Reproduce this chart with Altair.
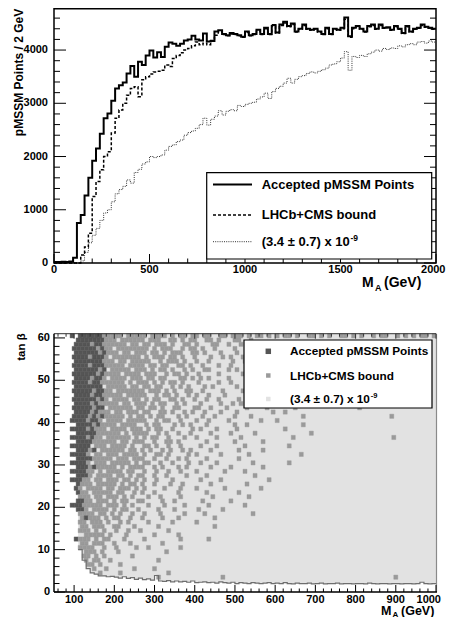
import altair as alt
import pandas as pd

FONT = "Liberation Sans"
W, H = 438, 609

# ======================= TOP PANEL DATA =======================
BIN_W = 20  # GeV per histogram bin, bins start at 0
ACCEPTED = [20, 20, 25, 20, 30, 100, 750, 900, 1270, 1600,
            1920, 2150, 2430, 2720, 2810, 3050, 3280, 3340, 3390, 3560,
            3700, 3500, 3780, 3720, 3900, 3990, 3860, 3960, 3870, 4060,
            4140, 4120, 4080, 4120, 4180, 4200, 4270, 4200, 4180, 4310,
            4160, 4170, 4350, 4370, 4300, 4280, 4320, 4300, 4280, 4250,
            4350, 4280, 4300, 4380, 4300, 4420, 4300, 4470, 4330, 4480,
            4530, 4450, 4500, 4350, 4400, 4480, 4400, 4380, 4400, 4350,
            4300, 4420, 4300, 4400, 4380, 4420, 4610, 4260, 4420, 4450,
            4400, 4350, 4450, 4480, 4400, 4480, 4420, 4430, 4380, 4450,
            4400, 4320, 4450, 4350, 4400, 4420, 4480, 4440, 4420, 4400]
LHCB_CMS = [0, 0, 0, 0, 0, 0, 0, 150, 300, 560,
            1250, 1530, 1750, 2000, 2090, 2440, 2720, 2875, 3000, 3150,
            3280, 3310, 3125, 3440, 3500, 3550, 3590, 3600, 3620, 3720,
            3690, 3840, 3900, 3950, 4000, 4030, 4080, 4150, 4100, 4130,
            4100, 4180, 4280, 4350, 4290, 4270, 4300, 4290, 4270, 4240,
            4330, 4270, 4290, 4360, 4290, 4400, 4290, 4450, 4320, 4460,
            4510, 4440, 4480, 4340, 4390, 4460, 4390, 4370, 4390, 4340,
            4290, 4400, 4290, 4390, 4370, 4400, 4580, 4240, 4400, 4440,
            4390, 4340, 4440, 4460, 4390, 4460, 4410, 4420, 4370, 4440,
            4390, 4310, 4440, 4340, 4390, 4410, 4460, 4430, 4410, 4390]
CENTRAL = [0, 0, 0, 0, 0, 0, 0, 40, 200, 380,
           520, 650, 800, 940, 1000, 1150, 1300, 1380, 1440, 1560,
           1500, 1700, 1760, 1860, 1900, 2000, 1980, 2000, 2030, 2120,
           2190, 2220, 2280, 2310, 2400, 2450, 2480, 2530, 2600, 2720,
           2590, 2700, 2760, 2860, 2780, 2850, 2880, 2860, 2960, 2940,
           2980, 3000, 3020, 3080, 3120, 3190, 3090, 3220, 3280, 3320,
           3380, 3470, 3380, 3450, 3500, 3520, 3560, 3590, 3570, 3600,
           3630, 3660, 3720, 3740, 3780, 3850, 3970, 3620, 3880, 3860,
           3900, 3880, 3930, 3960, 4000, 3980, 4030, 4010, 4040, 4030,
           4080, 4060, 4100, 4120, 4100, 4150, 4160, 4130, 4170, 4150]
SERIES = ["Accepted pMSSM Points", "LHCb+CMS bound", "(3.4 \u00b1 0.7) x 10"]
EXPONENT = "-9"

TOP_X_LABELS = [0, 500, 1000, 1500, 2000]
TOP_Y_LABELS = [0, 1000, 2000, 3000, 4000]

# ======================= BOTTOM PANEL DATA =======================
BOT_X_LABELS = [100, 200, 300, 400, 500, 600, 700, 800, 900, 1000]
BOT_Y_LABELS = [0, 10, 20, 30, 40, 50, 60]

# light region (3.4 +- 0.7): lower tan(beta) edge per 10 GeV column, from M_A = 110 GeV
LIGHT_X0 = 110
LIGHT_YLOW = [10, 7.5, 5.5, 4.5, 4.2, 3.8, 3.8, 3.6, 3.7, 3.5,
              3.3, 3.6, 3.2, 3.4, 3.0, 3.3, 2.9, 3.1, 2.8, 3.9,
              2.6, 2.5, 2.7, 2.4, 2.6, 2.4, 2.5, 2.3, 2.6, 2.2,
              2.3, 2.4, 2.2, 2.3, 2.1, 2.4, 2.2, 2.1, 2.3, 2.0,
              2.2, 2.1, 2.0, 2.2, 2.1, 2.0, 2.1, 2.2, 2.0, 2.1,
              2.0, 2.2, 2.0, 1.9, 2.1, 2.0, 2.0, 2.1, 1.9, 2.0,
              2.1, 1.9, 2.0, 2.0, 2.1, 1.9, 2.0, 2.0, 1.9, 2.0,
              2.0, 1.9, 2.1, 2.0, 1.9, 2.0, 2.0, 1.9, 2.0, 2.0,
              1.9, 2.0, 2.0, 1.9, 2.0, 2.3, 2.0, 1.9, 2.0]
LIGHT_TOP = 61

# medium ('o') and dark ('#') cells, 10 GeV x 1 unit, columns from M_A = 90 GeV
# (odd rows are drawn half a cell to the right)
GRID_X0 = 90
SEG_W = [7, 10, 14, 10, 10, 10, 30]
GRID_ROWS = [
    (60, ("#.#####", "#ooooo.ooo", "oo.oooo.o.oo.o", "o.oo..oo.o", "oo.o.oo.o.", "o.oo.o..oo", ".o.o..oo.o.o..o.oo..o.o.o.oo.o")),
    (59, (".######", "#ooo.ooooo", "o.ooo..oo.o.oo", "..oo.o...o", "o..o......")),
    (58, (".####o#", "#oooooo.oo", ".oo.ooo.o..oo.", "o...oo..o.", ".o")),
    (57, ("######o", "#oo.oooooo", "oo.o.ooo..o.oo", ".o..o....o", "..o")),
    (56, (".######", "o#ooo.oo.o", "oo.oo.o.ooo..o", "o.o...o...", "o")),
    (55, ("####o##", "#o.ooooooo", ".o.ooo.oo.o..o", "...o..o.o.", ".o")),
    (54, (".######", "#ooo.oo.oo", "ooo..o.ooo.o..", "o..o.....o", "..o")),
    (53, ("####o##", "#ooooo.ooo", "o.oo.oo..oo.o.", ".o...o..o.", "")),
    (52, (".######", "o#.ooooo.o", "oo.o.oo.o..o.o", "..oo....o.", "o")),
    (51, ("######o", "#oooo.oooo", ".ooo..o.oo.o..", "o....o....", ".o")),
    (50, (".####o#", "#o.oooo.oo", "o.oo.oo...oo.o", ".o.o....o.", "")),
    (49, ("####o##", "oooooo.o.o", "oo.o.o.oo.o...", "o....o..o.", "..o")),
    (48, (".######", "#.ooooo.oo", ".oo.oo..o.o.o.", "..o.o.....", "o")),
    (47, ("#####o#", "#oo.oooooo", "o.ooo.o.o..oo.", ".o....o...", ".o")),
    (46, (".####o#", "#ooooo.ooo", "oo..o.oo.o..o.", "o..o...o..", "")),
    (45, ("######o", "#o.oooo.oo", ".o.oo..oo.o..o", "..o..o....", "o")),
    (44, (".####o#", "ooooo.oo.o", "oo.o.oo..o.o..", ".o....o..o", ".o")),
    (43, ("#####o#", "#.oooooo.o", "o.oo.o..oo...o", "o..o...o..", "..o....o..", "....o.....", "..........o...................")),
    (42, (".####o#", "ooo.oo.ooo", ".oo..oo.o..o.o", "..o...o...", "o........o", "..o.......", "")),
    (41, ("####o#o", "#ooooo.o.o", "o.o.oo...o.o..", ".o..o....o", "...o......", "......o...", "..................o...........")),
    (40, ("####o##", "o.oooo.ooo", "oo..o.oo..o...", "o..o....o.", "......o...", "o.........", "")),
    (39, (".####o#", "oooo.oooo.", ".o.oo...o.o.o.", "..o......o", "..o.......", "......o...", "")),
    (38, ("####o#o", "oo.oooo.oo", "o.o.oo..o....o", ".o...o....", "o.........", "..o.......", "")),
    (37, (".#####o", "ooooo.o.oo", "oo..o.o..o..o.", "...o....o.", "....o.....", "........o.", "")),
    (36, ("####o#o", "o.oooooo.o", ".o.oo..o...o..", "o....o....", ".o........", "....o.....", "...................o..........")),
    (35, (".####oo", "oooo.oo.oo", "o..o..oo.o....", "..o......o", "......o...", "", "")),
    (34, ("#####.o", "oo.oooo.o.", ".oo.o..o..o...", ".o...o....", "..o.......", "...o......", "")),
    (33, (".###o#.", "oooooo.oo.", "o.o..o.o..o.o.", "...o......", "o.....o...", "", "")),
    (32, ("####o.o", "o.ooo.oooo", ".o..oo.o....o.", "o.....o...", "...o......", "......o...", "")),
    (31, (".####oo", "ooo.ooo.oo", "o..o..o..o.o..", "..o.......", "o.........", "", "")),
    (30, ("####o.o", "oo.ooooo.o", ".oo..o..o...o.", ".o...o....", "....o.....", "...o......", "")),
    (29, (".###o#o", "oooo.o.ooo", "o..o.o...o.o..", "...o....o.", "......o...", "", "")),
    (28, ("####oo.", "o.oooo.oo.", ".o..o..o..o...", "o......o..", "..o.......", "", "")),
    (27, (".###o.o", "ooo.oo.o.o", "o..o..o....o..", "..o.......", "....o.....", "", "")),
    (26, ("###oo.o", "o.ooo.oo.o", ".o..o...o.....", ".o....o...", "........o.", "", "")),
    (25, (".#ooo.o", "oooo.o.oo.", "o..o...o..o...", "...o......", "..o.......")),
    (24, (".#o.ooo", "o.oo.ooo.o", ".o....o...o...", "o......o..", "......o...")),
    (23, (".#oo.oo", "ooo.oo..o.", "o..o.....o....", "..o.......", "o.........")),
    (22, ("..ooo.o", "o.ooo.o.o.", "..o..o....o...", "....o.....", "...o......")),
    (21, (".##oo.o", "oo.o.oo..o", "o....o..o.....", ".o......o.", "")),
    (20, ("###oooo", "o.ooo.o.o.", "..o...o....o..", "...o......", "..o.......")),
    (19, (".##o.oo", "oo.o.oo..o", "....o...o.....", "o.....o...", "")),
    (18, ("..oooo.", "oo.o.o..o.", ".o...o.....o..", "..o.......", "....o.....")),
    (17, ("..o#ooo", ".o.oo..o..", "o....o...o....", "....o.....", "")),
    (16, ("..oo.oo", "o.o..o.o..", "..o.....o.....", "o.........", "")),
    (15, ("..oo.oo", "o..oo...o.", "....o.........", "....o.....")),
    (14, ("..ooo.o", ".o..o..o..", "o......o......", "")),
    (13, ("...oooo", "o.o...o...", "...o.....o....", "")),
    (12, (".#ooo.o", ".oo...o...", ".o........o...", "...o......")),
    (11, ("..oo.oo", "o..o...o..", ".....o........", "")),
    (10, ("..oooo.", ".o..o....o", "..o.......o...", "")),
    (9, ("...ooo.", "o...o.....", "......o.......", "")),
    (8, ("...oo.o", ".o......o.", "", "")),
    (7, ("...o.oo", "..o.......", "....o.........", "")),
    (6, ("....oo.", "o....o....", "", "")),
    (5, (".....o.", ".o......o.", "...o..........", "")),
    (4, (".......", "o....o....", ".......o......", "", "", "", "")),
    (3, (".......", "..........", "....o.........", "......o...", "", "", "...................o..........")),
]
CELL_W = 10

# ======================= SCALES (pixel layout) =======================
XL, XR = 46, 428
T_BOT, T_TOP = 255, 0
B_BOT, B_TOP = 584, 325.7
SX_T = alt.Scale(domain=[0, 2000], range=[XL, XR], nice=False, zero=False)
SY_T = alt.Scale(domain=[0, 4790], range=[T_BOT, T_TOP], nice=False, zero=False)
SX_B = alt.Scale(domain=[50, 1000], range=[XL, XR], nice=False, zero=False)
SY_B = alt.Scale(domain=[0, 61], range=[B_BOT, B_TOP], nice=False, zero=False)


def one():
    return pd.DataFrame({"t": [""]})


def text_at(text, x, y, size, align="left", baseline="alphabetic", angle=0, weight="bold"):
    return alt.Chart(pd.DataFrame({"t": [text]})).mark_text(
        font=FONT, fontSize=size, fontWeight=weight, align=align, baseline=baseline,
        angle=angle, color="black").encode(x=alt.value(x), y=alt.value(y), text="t:N")


def ticks_x(values, scale, y0, y1, color="black", w=1):
    return alt.Chart(pd.DataFrame({"v": values})).mark_rule(color=color, strokeWidth=w).encode(
        x=alt.X("v:Q", scale=scale, axis=None), y=alt.value(y0), y2=alt.value(y1))


def ticks_y(values, scale, x0, x1, color="black", w=1):
    return alt.Chart(pd.DataFrame({"v": values})).mark_rule(color=color, strokeWidth=w).encode(
        y=alt.Y("v:Q", scale=scale, axis=None), x=alt.value(x0), x2=alt.value(x1))


def hline(x0, x1, y, color="black", w=1, dash=(1, 0)):
    return alt.Chart(one()).mark_rule(color=color, strokeWidth=w, strokeDash=list(dash)).encode(
        x=alt.value(x0), x2=alt.value(x1), y=alt.value(y))


def vline(x, y0, y1, color="black", w=1):
    return alt.Chart(one()).mark_rule(color=color, strokeWidth=w).encode(
        x=alt.value(x), y=alt.value(y0), y2=alt.value(y1))


def box(x0, x1, y0, y1, fill="white", opacity=1.0, w=1.0):
    return alt.Chart(one()).mark_rect(fill=fill, fillOpacity=opacity, stroke="black", strokeWidth=w).encode(
        x=alt.value(x0), x2=alt.value(x1), y=alt.value(y0), y2=alt.value(y1))


def value_labels(values, xscale=None, yscale=None, x=None, y=None, size=11, align="center",
                 baseline="alphabetic"):
    ch = alt.Chart(pd.DataFrame({"v": values})).mark_text(
        font=FONT, fontSize=size, fontWeight="bold", align=align, baseline=baseline)
    if xscale is not None:
        return ch.encode(x=alt.X("v:Q", scale=xscale, axis=None), y=alt.value(y),
                         text=alt.Text("v:Q", format="d"))
    return ch.encode(y=alt.Y("v:Q", scale=yscale, axis=None), x=alt.value(x),
                     text=alt.Text("v:Q", format="d"))


layers = []

# ----------------------- TOP PANEL -----------------------
styles = [("black", 2.0, [1, 0]), ("black", 1.5, [3, 2]), ("#333333", 1.0, [1, 1.2])]
for name, vals, (col, sw, dash) in reversed(list(zip(SERIES, [ACCEPTED, LHCB_CMS, CENTRAL], styles))):
    xs = [i * BIN_W for i in range(len(vals))] + [len(vals) * BIN_W]
    ys = list(vals) + [vals[-1]]
    df = pd.DataFrame({"ma": xs, "n": ys})
    layers.append(alt.Chart(df).mark_line(interpolate="step-after", color=col, strokeWidth=sw,
                                          strokeDash=dash).encode(
        x=alt.X("ma:Q", scale=SX_T, axis=None), y=alt.Y("n:Q", scale=SY_T, axis=None)))

layers.append(box(XL, XR, 0.75, T_BOT, fill="white", opacity=0.0, w=1.5))

top_xmin = [v for v in range(100, 2000, 100) if v % 500]
top_ymin = [v for v in range(200, 4790, 200) if v % 1000]
layers += [
    ticks_x(TOP_X_LABELS, SX_T, T_BOT, T_BOT - 9),
    ticks_x(top_xmin, SX_T, T_BOT, T_BOT - 4.5),
    ticks_y(TOP_Y_LABELS, SY_T, XL, XL + 12),
    ticks_y(top_ymin, SY_T, XL, XL + 6),
    ticks_y(TOP_Y_LABELS, SY_T, XR, XR - 12),
    ticks_y(top_ymin, SY_T, XR, XR - 6),
    value_labels(TOP_X_LABELS[:-1], xscale=SX_T, y=265),
    value_labels(TOP_X_LABELS[-1:], xscale=SX_T, y=265, align="right").encode(x=alt.value(437.5)),
    value_labels(TOP_Y_LABELS, yscale=SY_T, x=40, align="right", baseline="middle"),
    text_at("pMSSM Points / 2 GeV", 11, 64.5, 12, align="center", baseline="middle", angle=270),
    text_at("M", 354, 279, 14),
    text_at("A", 367, 283, 9),
    text_at("(GeV)", 376, 279, 14),
]
# legend
layers.append(box(198.7, 423.7, 164.7, 251, fill="white", w=1.2))
for (name, (col, sw, dash)), yy in zip(zip(SERIES, styles), [176.5, 207, 233.7]):
    layers.append(hline(205, 244, yy, color=col, w=sw, dash=dash))
    layers.append(text_at(name, 253.7, yy, 13, baseline="middle"))
layers.append(text_at(EXPONENT, 342.5, 230, 8.5, baseline="middle"))

# ----------------------- BOTTOM PANEL -----------------------
light = pd.DataFrame({
    "x": [LIGHT_X0 + CELL_W * i for i in range(len(LIGHT_YLOW))] + [1000],
    "ylow": LIGHT_YLOW + [LIGHT_YLOW[-1]],
    "ytop": [LIGHT_TOP] * (len(LIGHT_YLOW) + 1),
})
layers.append(alt.Chart(light).mark_area(interpolate="step-after", color="#e2e2e2", opacity=1).encode(
    x=alt.X("x:Q", scale=SX_B, axis=None),
    y=alt.Y("ylow:Q", scale=SY_B, axis=None), y2="ytop:Q"))

ncols = sum(SEG_W)
cells = []
for yv, segs in GRID_ROWS:
    row = "".join(s.ljust(w, ".")[:w] for s, w in zip(segs, SEG_W)).ljust(ncols, ".")
    shift = CELL_W / 2 if yv % 2 else 0
    for c, ch in enumerate(row):
        if ch in "o#":
            x0 = min(GRID_X0 + CELL_W * c + shift, 1000 - CELL_W)
            cells.append({"x0": x0, "x1": x0 + CELL_W, "y0": yv, "y1": yv + 1,
                          "cat": "dark" if ch == "#" else "medium"})
cells = pd.DataFrame(cells)
cat_scale = alt.Scale(domain=["medium", "dark"], range=["#9a9a9a", "#555555"])
layers.append(alt.Chart(cells).mark_rect(strokeWidth=0.4).encode(
    x=alt.X("x0:Q", scale=SX_B, axis=None), x2="x1:Q",
    y=alt.Y("y0:Q", scale=SY_B, axis=None), y2="y1:Q",
    color=alt.Color("cat:N", scale=cat_scale, legend=None),
    stroke=alt.Stroke("cat:N", scale=cat_scale, legend=None)))

layers.append(alt.Chart(light).mark_line(interpolate="step-after", color="#6e6e6e", strokeWidth=1.2).encode(
    x=alt.X("x:Q", scale=SX_B, axis=None), y=alt.Y("ylow:Q", scale=SY_B, axis=None)))

# frame
layers += [
    hline(XL, XR, B_TOP, color="#333333", w=1),
    vline(XR + 0.5, B_TOP, B_BOT, color="#8a8a8a", w=1.2),
    hline(XL, XR + 1, B_BOT, color="black", w=1.5),
    vline(XL, B_TOP, B_BOT, color="black", w=1.5),
]
bot_xmin = [v for v in range(60, 1000, 20) if v % 100]
bot_ymin = [v for v in range(2, 61, 2) if v % 10]
layers += [
    ticks_x(BOT_X_LABELS, SX_B, B_BOT, B_BOT - 7),
    ticks_x(bot_xmin, SX_B, B_BOT, B_BOT - 3.5),
    ticks_x(BOT_X_LABELS, SX_B, B_TOP, B_TOP + 5, color="#333333"),
    ticks_x(bot_xmin, SX_B, B_TOP, B_TOP + 3, color="#333333"),
    ticks_y(BOT_Y_LABELS, SY_B, XL, XL + 11),
    ticks_y(bot_ymin, SY_B, XL, XL + 5.5),
    value_labels(BOT_X_LABELS[:-1], xscale=SX_B, y=595),
    value_labels(BOT_X_LABELS[-1:], xscale=SX_B, y=595, align="right").encode(x=alt.value(433)),
    value_labels(BOT_Y_LABELS, yscale=SY_B, x=42, align="right", baseline="middle"),
    text_at("tan \u03b2", 14, 339, 11.5, align="center", baseline="middle", angle=270),
    text_at("M", 373, 606.5, 12.5),
    text_at("A", 384.5, 608.5, 8),
    text_at("(GeV)", 393, 606.5, 12.5),
]
# legend
layers.append(box(236, 424, 332, 400, fill="white", w=1.2))
marker_styles = [("#555555", 30), ("#9a9a9a", 20), ("#e2e2e2", 20)]
for (name, (col, sz)), yy in zip(zip(SERIES, marker_styles), [343.3, 367.5, 391]):
    layers.append(alt.Chart(one()).mark_square(color=col, size=sz, opacity=1).encode(
        x=alt.value(260.3), y=alt.value(yy)))
    layers.append(text_at(name, 282, yy, 11.8, baseline="middle"))
layers.append(text_at(EXPONENT, 362.8, 387.5, 7.5, baseline="middle"))

chart = alt.layer(*layers).properties(
    width=W, height=H, autosize=alt.AutoSizeParams(type="none"), padding=0
).resolve_scale(
    x="independent", y="independent", color="independent", stroke="independent"
).configure_view(stroke="transparent")

chart.save("out.html", embed_options={"renderer": "svg", "actions": False})
